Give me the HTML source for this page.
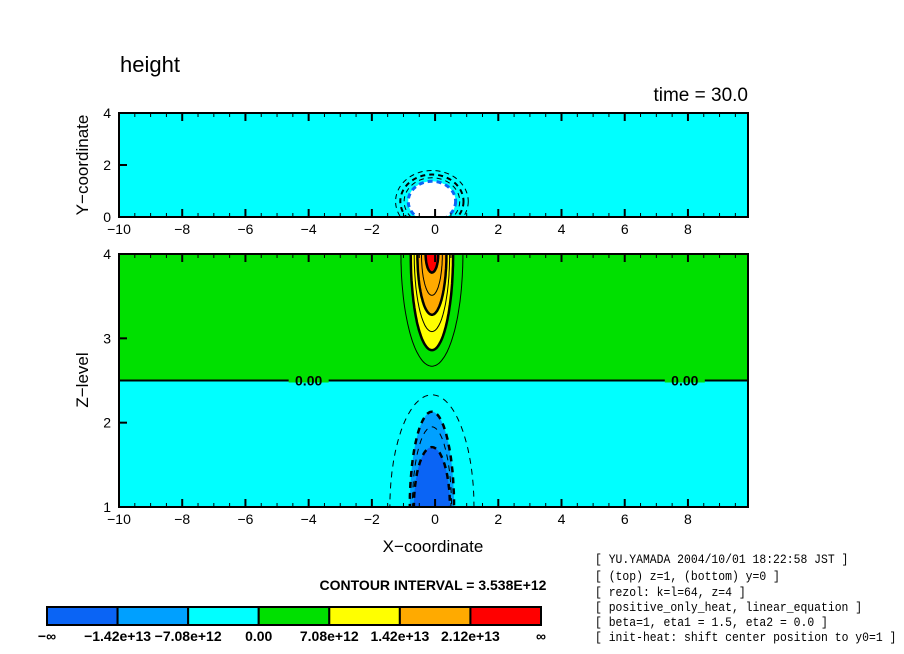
<!DOCTYPE html>
<html><head><meta charset="utf-8"><style>
body{margin:0;background:#fff;}
svg{display:block;font-family:"Liberation Sans",sans-serif;}
</style></head><body>
<svg id="c" width="904" height="654" viewBox="0 0 904 654">
<text x="120" y="72" font-size="22">height</text>
<text x="748" y="101" font-size="19" text-anchor="end">time = 30.0</text>
<g id="topPanel"></g>
<g id="botPanel"></g>
<text x="88" y="165" font-size="17" text-anchor="middle" transform="rotate(-90 88 165)">Y−coordinate</text>
<text x="88" y="380" font-size="17" text-anchor="middle" transform="rotate(-90 88 380)">Z−level</text>
<text x="433" y="552" font-size="17" text-anchor="middle">X−coordinate</text>
<text x="433" y="590" font-size="14" text-anchor="middle" font-weight="bold">CONTOUR INTERVAL = 3.538E+12</text>
<g id="cbar"></g>
<g id="info" font-family="'Liberation Mono',monospace" font-size="13">
<text x="595" y="563">[ YU.YAMADA 2004/10/01 18:22:58 JST ]</text>
<text x="595" y="580">[ (top) z=1, (bottom) y=0 ]</text>
<text x="595" y="596">[ rezol: k=l=64, z=4 ]</text>
<text x="595" y="611">[ positive_only_heat, linear_equation ]</text>
<text x="595" y="626">[ beta=1, eta1 = 1.5, eta2 = 0.0 ]</text>
<text x="595" y="641">[ init-heat: shift center position to y0=1 ]</text>
</g>
</svg>
<script>
// data
const xTicks=[-10,-8,-6,-4,-2,0,2,4,6,8];
const yTopTicks=[0,2,4];
const zTicks=[1,2,3,4];
const cbarColors=["#0a64f5","#00a0ff","#00ffff","#00e000","#ffff00","#ffaa00","#ff0000"];
const cbarLabels=["−∞","−1.42e+13","−7.08e+12","0.00","7.08e+12","1.42e+13","2.12e+13","∞"];
// positive lobe contours: level index, tip z, half width (x units) at z=4
const posLevels=[1,2,3,4,5,6];
const posTips=[2.67,2.86,3.08,3.28,3.51,3.78];
const posWidths=[0.98,0.67,0.56,0.46,0.33,0.2];
// negative lobe contours: level index, tip z, half width at z=1
const negLevels=[-1,-2,-3,-4];
const negTips=[2.33,2.13,1.95,1.71];
const negWidths=[1.33,0.7,0.62,0.57];
// top panel rings (radius in x units)
const ringR=[1.15,1.0,0.88,0.75];

const NS="http://www.w3.org/2000/svg";
const svg=document.getElementById('c');
document.querySelectorAll('#info text').forEach(t=>{t.setAttribute('textLength',(t.textContent.length*6.85).toFixed(1));t.setAttribute('lengthAdjust','spacingAndGlyphs');});
const X0=119,X1=748,xmin=-10,xmax=9.9;
const sx=v=>X0+(v-xmin)/(xmax-xmin)*(X1-X0);
const TY0=113,TY1=217,sy=v=>TY1-v/4*(TY1-TY0);
const BY0=254,BY1=507,sz=v=>BY1-(v-1)/3*(BY1-BY0);
function el(t,a,p){const e=document.createElementNS(NS,t);for(const k in a)e.setAttribute(k,a[k]);(p||svg).appendChild(e);return e;}
const topG=document.getElementById('topPanel'),botG=document.getElementById('botPanel');
const defs=el('defs',{});
const cp=el('clipPath',{id:'cb'},defs);el('rect',{x:X0,y:BY0,width:X1-X0,height:BY1-BY0},cp);
const cp2=el('clipPath',{id:'ct'},defs);el('rect',{x:X0,y:TY0,width:X1-X0,height:TY1-TY0},cp2);
// top panel
const tb=el('rect',{x:X0,y:TY0,width:X1-X0,height:TY1-TY0,fill:'#00ffff'},topG);


const tg=el('g',{'clip-path':'url(#ct)'},topG);
ringR.forEach((r,i)=>{
  const last=i==ringR.length-1;
  const e=el('ellipse',{cx:sx(-0.1),cy:sy(0.6),rx:r*31.6,ry:r*31.6*0.85,fill:last?'#fff':'none',stroke:last?'#0a64f5':'#000','stroke-width':last?3:(i%2?2:1),'stroke-dasharray':'5 4'},tg);
  
  
});
// bottom panel
const b1=el('rect',{x:X0,y:BY0,width:X1-X0,height:sz(2.5)-BY0,fill:'#00e000'},botG);


const b2=el('rect',{x:X0,y:sz(2.5),width:X1-X0,height:BY1-sz(2.5),fill:'#00ffff'},botG);


const bg=el('g',{'clip-path':'url(#cb)'},botG);
function arch(tip,w,edge){
  const ext=edge+(edge-tip)*0.03;
  let pts=[];const N=40;
  for(let i=0;i<=N;i++){const a=i/N*Math.PI/2;const z=edge-(edge-tip)*Math.cos(a);const hw=w*Math.sin(a);pts.push([sx(-0.1-hw),sz(z)]);}
  pts.push([sx(-0.1-w),sz(ext)]);
  const right=pts.map(p=>[2*sx(-0.1)-p[0],p[1]]);
  const all=pts.slice().reverse().concat(right.slice(1));
  return 'M'+all.map(p=>p[0].toFixed(1)+','+p[1].toFixed(1)).join('L');
}
const posFill={2:'#ffff00',4:'#ffaa00',6:'#ff0000'};
posLevels.forEach((lv,i)=>{
  const p=el('path',{d:arch(posTips[i],posWidths[i],4.0)+'Z',fill:posFill[lv]||'none',stroke:'none'},bg);
  
  
});
posLevels.forEach((lv,i)=>{
  const p=el('path',{d:arch(posTips[i],posWidths[i],4.0),fill:'none',stroke:'#000','stroke-width':lv%2?1:2.5},bg);
  
  
});
const negFill={'-2':'#00a0ff','-4':'#0a64f5'};
negLevels.forEach((lv,i)=>{
  const p=el('path',{d:arch(negTips[i],negWidths[i],1.0)+'Z',fill:negFill[lv]||'none',stroke:'none'},bg);
  
  
});
negLevels.forEach((lv,i)=>{
  const p=el('path',{d:arch(negTips[i],negWidths[i],1.0),fill:'none',stroke:'#000','stroke-width':lv%2?1:2.5,'stroke-dasharray':'6 5'},bg);
  
  
});
const zl=el('line',{x1:X0,x2:X1,y1:sz(2.5),y2:sz(2.5),stroke:'#000','stroke-width':2},botG);


[-4.0,7.9].forEach(v=>{
  const r=el('rect',{x:sx(v)-20,y:sz(2.5)-2,width:40,height:4,fill:'#00e000'},botG);
  
  
  const t=el('text',{x:sx(v),y:sz(2.5)+5,'font-size':14,'font-weight':'bold','text-anchor':'middle'},botG);
  t.textContent='0.00';
  
  
});
function frame(g,y0,y1){
  el('rect',{x:X0,y:y0,width:X1-X0,height:y1-y0,fill:'none',stroke:'#000','stroke-width':2},g);
  for(let v=-10;v<=9.9;v+=0.5){const maj=Math.abs(v-Math.round(v/2)*2)<1e-6;
    el('line',{x1:sx(v),x2:sx(v),y1:y1,y2:y1-(maj?8:4),stroke:'#000','stroke-width':maj?2:1},g);
    el('line',{x1:sx(v),x2:sx(v),y1:y0,y2:y0+(maj?8:4),stroke:'#000','stroke-width':maj?2:1},g);}
  xTicks.forEach(v=>{const t=el('text',{x:sx(v),y:y1+17,'font-size':14,'text-anchor':'middle'},g);t.textContent=v<0?'−'+(-v):v;
    
    });
}
frame(topG,TY0,TY1);frame(botG,BY0,BY1);
yTopTicks.forEach(v=>{el('line',{x1:X0,x2:X0+8,y1:sy(v),y2:sy(v),stroke:'#000','stroke-width':2},topG);
  const t=el('text',{x:X0-8,y:sy(v)+5,'font-size':14,'text-anchor':'end'},topG);t.textContent=v;
  
  });
zTicks.forEach(v=>{el('line',{x1:X0,x2:X0+8,y1:sz(v),y2:sz(v),stroke:'#000','stroke-width':2},botG);
  const t=el('text',{x:X0-8,y:sz(v)+5,'font-size':14,'text-anchor':'end'},botG);t.textContent=v;
  
  });
const cb=document.getElementById('cbar');const CX0=47,CX1=541,bw=(CX1-CX0)/cbarColors.length;
cbarColors.forEach((c,i)=>{const r=el('rect',{x:CX0+i*bw,y:607,width:bw,height:18,fill:c,stroke:'#000','stroke-width':2},cb);
  
  });
cbarLabels.forEach((s,i)=>{const t=el('text',{x:CX0+i*bw,y:641,'font-size':14,'font-weight':'bold','text-anchor':'middle'},cb);t.textContent=s;
  
  });
</script>
</body></html>
